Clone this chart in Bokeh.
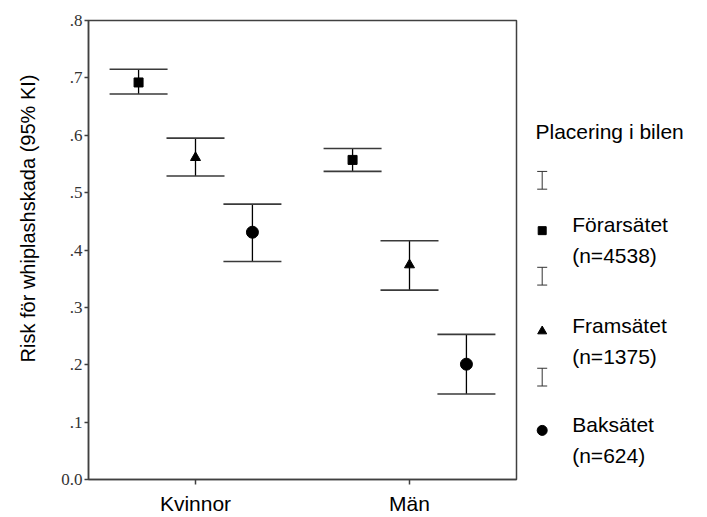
import math
from bokeh.plotting import figure
from bokeh.models import (ColumnDataSource, Whisker, TeeHead, FixedTicker, Range1d,
                          FactorRange)
from bokeh.transform import dodge
from bokeh.layouts import row
from bokeh.core.properties import value
from bokeh.embed import file_html
from bokeh.resources import INLINE

# ---- data ----
genders = ["Kvinnor", "Män"]
seats = ["Förarsätet", "Framsätet", "Baksätet"]
seat_n = [4538, 1375, 624]
seat_markers = ["square", "triangle", "circle"]

mean_kvinnor = [0.692, 0.561, 0.431]
lower_kvinnor = [0.672, 0.529, 0.380]
upper_kvinnor = [0.715, 0.595, 0.480]

mean_man = [0.557, 0.374, 0.201]
lower_man = [0.537, 0.330, 0.149]
upper_man = [0.577, 0.416, 0.253]

y_ticks = [0.0, 0.1, 0.2, 0.3, 0.4, 0.5, 0.6, 0.7, 0.8]
y_tick_labels = ["0.0", ".1", ".2", ".3", ".4", ".5", ".6", ".7", ".8"]

y_title = "Risk för whiplashskada (95% KI)"
legend_title = "Placering i bilen"

# ---- style ----
SANS = "Liberation Sans"
SERIF = "Liberation Serif"
AX = "#404040"
marker_sizes = [9, 10, 12]
legend_marker_sizes = [8, 9, 10]
offsets = [-0.266, 0.0, 0.266]
H = 517

# ---- left strip with the vertical axis title ----
tf = figure(width=50, height=H, x_range=Range1d(0, 50), y_range=Range1d(H, 0),
            x_axis_type=None, y_axis_type=None, min_border=0,
            output_backend="svg", toolbar_location=None)
tf.grid.visible = False
tf.outline_line_color = None
tf.text(x=[27], y=[223], text=[y_title], angle=math.pi / 2,
        text_align="center", text_baseline="middle",
        text_font=value(SANS), text_font_size="20px", text_color="black")

# ---- main plot ----
p = figure(x_range=FactorRange(factors=genders, range_padding=0),
           y_range=Range1d(0, 0.8),
           width=468, height=H,
           min_border_left=38, min_border_right=2, min_border_top=20, min_border_bottom=35,
           output_backend="svg", toolbar_location=None)
p.xgrid.visible = False
p.ygrid.visible = False
p.outline_line_color = AX
p.outline_line_width = 1.5
p.outline_line_alpha = 1.0
p.background_fill_color = "white"
p.border_fill_color = "white"

for i in range(3):
    src = ColumnDataSource(dict(gender=genders,
                                mean=[mean_kvinnor[i], mean_man[i]],
                                lower=[lower_kvinnor[i], lower_man[i]],
                                upper=[upper_kvinnor[i], upper_man[i]]))
    xb = dodge("gender", offsets[i], range=p.x_range)
    w = Whisker(base=xb, lower="lower", upper="upper", source=src, dimension="height",
                line_color="black", line_width=1.3,
                upper_head=TeeHead(size=58, line_color="#3a3a3a", line_width=1.6),
                lower_head=TeeHead(size=58, line_color="#3a3a3a", line_width=1.6))
    p.add_layout(w)
    p.scatter(x=xb, y="mean", source=src, marker=seat_markers[i],
              size=marker_sizes[i], fill_color="black", line_color="black")

p.yaxis.ticker = FixedTicker(ticks=y_ticks)
p.yaxis.major_label_overrides = {t: l for t, l in zip(y_ticks, y_tick_labels)}
p.yaxis.minor_tick_line_color = None
p.yaxis.major_tick_in = 0
p.yaxis.major_tick_out = 4
p.yaxis.major_label_standoff = 2
p.yaxis.major_label_text_font = SERIF
p.yaxis.major_label_text_font_size = "17px"
p.yaxis.major_label_text_color = "#333333"
p.xaxis.major_tick_in = 0
p.xaxis.major_tick_out = 5
p.xaxis.major_label_standoff = 7
p.xaxis.major_label_text_font = SANS
p.xaxis.major_label_text_font_size = "21px"
p.xaxis.major_label_text_color = "black"
for ax in (p.xaxis, p.yaxis):
    ax.axis_line_color = AX
    ax.axis_line_width = 1.5
    ax.major_tick_line_color = AX
    ax.major_tick_line_width = 1.5

# ---- legend panel ----
lg = figure(width=189, height=H, x_range=Range1d(518, 707), y_range=Range1d(H, 0),
            x_axis_type=None, y_axis_type=None, min_border=0,
            output_backend="svg", toolbar_location=None)
lg.grid.visible = False
lg.outline_line_color = None

lx = 541.7
tx = 571.7
title_y = 125
icon_y = [180, 288, 401.7]
mark_y = [236.7, 350, 461.7]

lg.text(x=[535], y=[title_y], text=[legend_title], text_baseline="middle",
        text_font=value(SANS), text_font_size="21px", text_color="black")
lg.segment(x0=[lx] * 3, x1=[lx] * 3, y0=[v - 10 for v in icon_y], y1=[v + 10 for v in icon_y],
           line_color="#333333", line_width=1)
lg.segment(x0=[lx - 5] * 6, x1=[lx + 5] * 6,
           y0=[v - 10 for v in icon_y] + [v + 10 for v in icon_y],
           y1=[v - 10 for v in icon_y] + [v + 10 for v in icon_y],
           line_color="#333333", line_width=1)
lg.scatter(x=[lx] * 3, y=mark_y, marker=seat_markers, size=legend_marker_sizes,
           fill_color="black", line_color="black")
txt, ty = [], []
for i in range(3):
    txt += [seats[i], "(n=%d)" % seat_n[i]]
    ty += [mark_y[i] - 6.5, mark_y[i] + 28.5]
lg.text(x=[tx] * 6, y=ty, text=txt, text_baseline="middle",
        text_font=value(SANS), text_font_size="21px", text_color="black")

layout = row(tf, p, lg)
open("out.html", "w").write(file_html(layout, INLINE))
